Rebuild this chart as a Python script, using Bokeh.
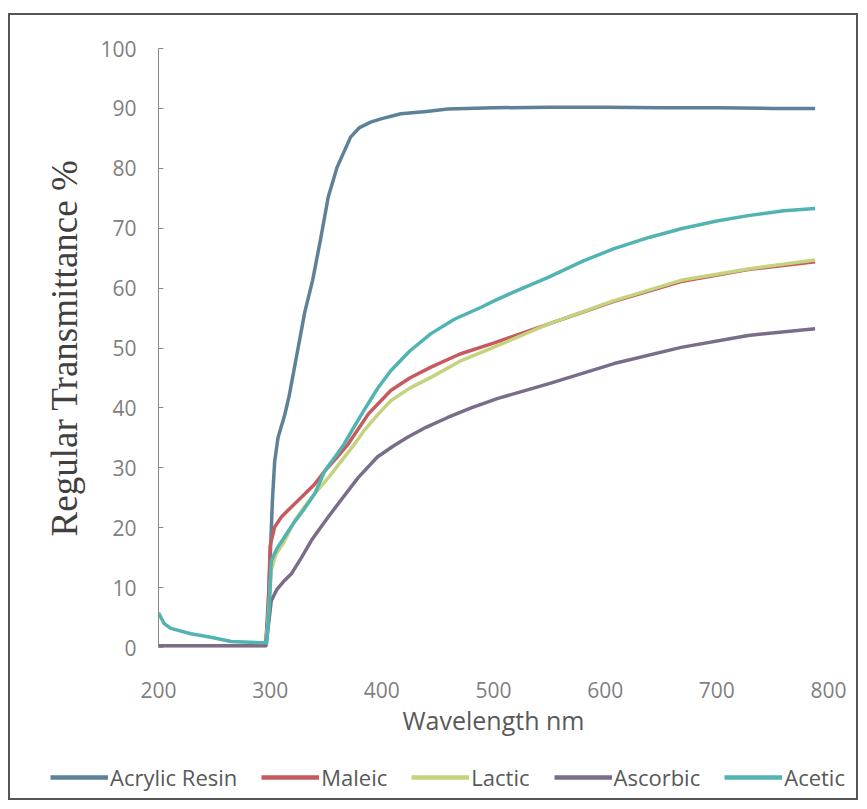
from bokeh.plotting import figure
from bokeh.models import Range1d, FixedTicker, Legend, LegendItem
from bokeh.layouts import column
from bokeh.embed import file_html
from bokeh.resources import INLINE

# ---- data ----
acrylic_x = [200, 250, 296, 299, 302, 304, 307, 313, 317, 321, 325, 331, 338, 345, 352, 360, 372, 380, 390, 400, 417, 440, 459, 500, 550, 600, 650, 700, 750, 788]
acrylic_y = [0.3, 0.3, 0.3, 10, 24.5, 31, 35, 38.8, 42, 46, 50, 56, 61.3, 68, 75.2, 80.2, 85.2, 86.8, 87.7, 88.3, 89.1, 89.5, 89.9, 90.1, 90.2, 90.2, 90.1, 90.1, 90.0, 90.0]

maleic_x = [200, 250, 296, 298, 300, 304, 310, 322, 328, 340, 349, 360, 370, 388, 408, 425, 444, 470, 500, 549, 608, 668, 728, 788]
maleic_y = [0.3, 0.3, 0.3, 5, 17, 20.1, 21.8, 24, 25.1, 27.3, 29.5, 31.8, 34, 39, 42.9, 45, 46.8, 49, 50.8, 54, 57.8, 61.1, 63.1, 64.4]

lactic_x = [200, 250, 296, 298, 301, 305, 312, 322, 330, 340, 352, 364, 375, 384, 396, 408, 425, 444, 470, 500, 549, 608, 668, 728, 788]
lactic_y = [0.3, 0.3, 0.3, 4, 13, 15.5, 17.5, 21.2, 23.3, 25.7, 28.3, 31.2, 33.8, 36.2, 38.8, 41.2, 43.3, 45.1, 47.8, 50.1, 54, 57.9, 61.3, 63.2, 64.7]

ascorbic_x = [200, 250, 296, 298, 301, 306, 312, 319, 328, 337, 345, 352, 365, 379, 396, 410, 423, 440, 459, 480, 504, 549, 608, 668, 728, 788]
ascorbic_y = [0.3, 0.3, 0.3, 3, 7.8, 9.7, 11, 12.3, 15, 17.9, 20, 21.8, 25, 28.4, 31.8, 33.6, 35.1, 36.8, 38.4, 40, 41.6, 44, 47.4, 50.1, 52.1, 53.2]

acetic_x = [200, 205, 211, 229, 247, 265, 292, 297, 299, 301, 306, 313, 320, 330, 340, 349, 358, 366, 375, 384, 396, 408, 425, 444, 465, 489, 501, 520, 549, 580, 608, 640, 668, 700, 728, 760, 788]
acetic_y = [5.8, 4.0, 3.2, 2.3, 1.7, 1.0, 0.8, 0.8, 6, 14.5, 16.5, 18.5, 20.5, 23, 25.7, 29.5, 31.8, 33.9, 36.8, 39.6, 43.2, 46.2, 49.5, 52.4, 54.8, 56.8, 57.9, 59.5, 61.8, 64.5, 66.6, 68.5, 69.9, 71.2, 72.1, 72.9, 73.3]

series_names = ["Acrylic Resin", "Maleic", "Lactic", "Ascorbic", "Acetic"]
series_x = [acrylic_x, maleic_x, lactic_x, ascorbic_x, acetic_x]
series_y = [acrylic_y, maleic_y, lactic_y, ascorbic_y, acetic_y]
colors = ["#5d8196", "#c55a5f", "#c5d27e", "#7a6d8a", "#52b4b2"]

x_ticks = [200, 300, 400, 500, 600, 700, 800]
y_ticks = [0, 10, 20, 30, 40, 50, 60, 70, 80, 90, 100]

FW, FH = 670, 599
ML, MR, MT, MB = 148, 28, 33, 95
p = figure(frame_width=FW, frame_height=FH, output_backend="svg", toolbar_location=None,
           x_range=Range1d(200, 800), y_range=Range1d(0, 100),
           min_border_left=ML, min_border_right=MR, min_border_top=MT, min_border_bottom=MB)
p.outline_line_color = None
p.xgrid.visible = False
p.ygrid.visible = False
p.background_fill_color = "white"
p.border_fill_color = "white"

# y axis
ya = p.yaxis[0]
ya.ticker = FixedTicker(ticks=y_ticks)
ya.major_tick_in = 5
ya.major_tick_out = 0
ya.minor_tick_line_color = None
ya.axis_line_color = "#8a8a8a"
ya.major_tick_line_color = "#8a8a8a"
ya.major_label_text_font = "Open Sans"
ya.major_label_text_font_size = "21px"
ya.major_label_text_color = "#7f7f7f"
ya.major_label_standoff = 22
ya.axis_label = "Regular Transmittance %"
ya.axis_label_text_font = "Liberation Serif"
ya.axis_label_text_font_size = "37px"
ya.axis_label_text_font_style = "normal"
ya.axis_label_text_color = "#404040"
ya.axis_label_standoff = 12

# x axis
xa = p.xaxis[0]
xa.ticker = FixedTicker(ticks=x_ticks)
xa.axis_line_color = None
xa.major_tick_line_color = None
xa.minor_tick_line_color = None
xa.major_label_text_font = "Open Sans"
xa.major_label_text_font_size = "21px"
xa.major_label_text_color = "#7f7f7f"
xa.major_label_standoff = 28
xa.axis_label = "Wavelength nm"
xa.axis_label_text_font = "Open Sans"
xa.axis_label_text_font_size = "25px"
xa.axis_label_text_font_style = "normal"
xa.axis_label_text_color = "#595959"
xa.axis_label_standoff = 2

for xs, ys, c in zip(series_x, series_y, colors):
    p.line(xs, ys, line_color=c, line_width=3.5, line_join="round")

# legend strip below the chart: same series, drawn outside this strip's view, legend only
lw = ML + FW + MR
lf = figure(frame_width=lw, frame_height=56, output_backend="svg", toolbar_location=None,
            x_range=Range1d(0, 1), y_range=Range1d(0, 1),
            x_axis_location=None, y_axis_location=None,
            min_border_left=0, min_border_right=0, min_border_top=0, min_border_bottom=0)
lf.outline_line_color = None
lf.xgrid.visible = False
lf.ygrid.visible = False
items = []
for name, xs, ys, c in zip(series_names, series_x, series_y, colors):
    r = lf.line(xs, ys, line_color=c, line_width=4.5)
    items.append(LegendItem(label=name, renderers=[r]))
legend = Legend(items=items, orientation="horizontal", location=(40, 6),
                border_line_color=None, background_fill_alpha=0,
                label_text_font="Open Sans",
                label_text_font_size="22px", label_text_color="#595959",
                glyph_width=58, glyph_height=20, label_standoff=2, spacing=24,
                padding=0, margin=0)
lf.add_layout(legend, "center")

layout = column(p, lf, spacing=0, margin=(13, 0, 0, 8),
                styles={"border": "2px solid #555555", "background": "white"})

open("out.html", "w").write(file_html(layout, INLINE))
